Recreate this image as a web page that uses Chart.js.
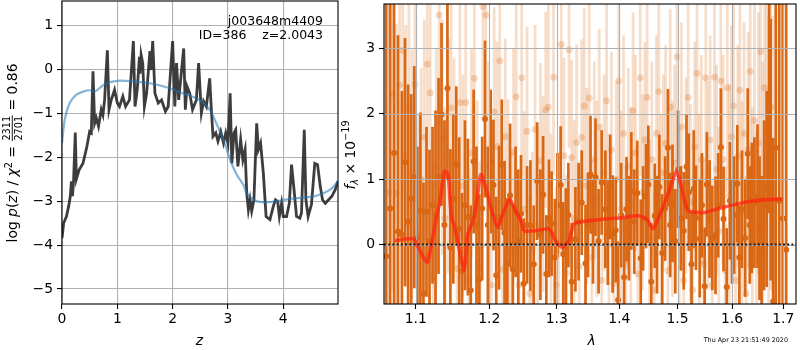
<!DOCTYPE html>
<html lang="en">
<head>
<meta charset="UTF-8">
<script src="https://cdn.jsdelivr.net/npm/chart.js"></script>
<style>
    body { margin: 0; background: #fff; }
    #wrap { position: relative; width: 800px; height: 350px; overflow: hidden; }
    #wrap canvas { position: absolute; top: 0; }
    #pz { left: 0; }
    #spec { left: 340px; }
</style>
</head>
<body>
<div id="wrap">
    <canvas id="pz" width="340" height="350"></canvas>
    <canvas id="spec" width="460" height="350"></canvas>
</div>
<script>
// ---- left panel: log p(z) ----
const zGrid = [0.00,0.03,0.08,0.12,0.15,0.17,0.19,0.21,0.24,0.26,0.31,0.38,0.45,0.50,0.53,0.56,0.59,0.62,0.66,0.71,
    0.74,0.77,0.82,0.85,0.89,0.95,1.00,1.04,1.10,1.15,1.22,1.29,1.32,1.36,1.40,1.41,1.43,1.46,1.49,1.53,1.59,
    1.61,1.64,1.68,1.74,1.80,1.87,1.92,2.00,2.04,2.07,2.11,2.20,2.23,2.26,2.31,2.36,2.43,2.47,2.52,2.56,
    2.61,2.67,2.70,2.73,2.78,2.82,2.87,2.92,2.96,3.00,3.04,3.07,3.11,3.14,3.18,3.23,3.27,3.31,3.34,3.37,
    3.40,3.43,3.47,3.52,3.55,3.59,3.64,3.69,3.76,3.82,3.86,3.90,3.93,3.97,4.00,4.06,4.11,4.15,4.19,4.24,
    4.30,4.33,4.38,4.41,4.45,4.51,4.57,4.62,4.67,4.71,4.76,4.82,4.88,4.94,4.99];
const logPz = [-3.84,-3.50,-3.35,-3.12,-2.89,-2.55,-2.89,-2.52,-1.44,-2.50,-2.29,-2.14,-1.76,-1.42,-1.45,-0.05,-1.23,-1.11,-1.30,-0.92,
    -1.04,-0.70,0.43,-0.92,-0.70,-0.47,-0.77,-0.85,-0.62,-0.85,-0.70,0.64,-0.85,-0.47,0.28,-0.10,0.33,0.13,-0.85,-0.55,0.41,
    -0.02,0.64,-0.55,-0.77,-0.70,-0.96,-0.85,0.64,-0.85,0.14,-0.70,0.47,-0.92,-0.39,-0.55,-0.92,-0.70,0.14,-1.00,-0.73,
    -0.85,-0.21,-0.92,-1.53,-1.45,-1.64,-1.42,-1.68,-1.45,-1.68,-0.55,-2.14,-1.45,-1.38,-2.21,-1.60,-2.06,-1.83,-2.82,-3.20,
    -2.97,-3.23,-2.97,-1.23,-1.83,-1.68,-2.36,-3.35,-3.42,-3.12,-2.97,-3.01,-3.35,-3.05,-3.35,-3.35,-3.05,-2.17,-2.67,-3.35,
    -3.39,-3.27,-1.38,-2.97,-3.35,-3.08,-2.14,-2.17,-2.67,-2.97,-3.05,-2.97,-2.89,-2.74,-2.55];
const zPrior = [0.00,0.05,0.14,0.26,0.38,0.50,0.59,0.68,0.80,1.04,1.29,1.59,1.89,2.19,2.49,2.67,2.79,2.92,3.04,3.16,
    3.28,3.34,3.46,3.64,3.88,4.12,4.36,4.60,4.85,4.99];
const logPrior = [-1.68,-1.15,-0.77,-0.58,-0.51,-0.48,-0.51,-0.43,-0.32,-0.26,-0.28,-0.32,-0.41,-0.55,-0.70,-0.92,-1.23,-1.61,-2.06,-2.40,
    -2.63,-2.82,-2.97,-3.03,-3.00,-2.95,-2.92,-2.88,-2.74,-2.55];
const pzTicksX = [0, 1, 2, 3, 4];
const pzTicksY = [-5, -4, -3, -2, -1, 0, 1];

// ---- right panel: spectrum ----
const modelWave = [1.073,1.097,1.103,1.115,1.127,1.132,1.138,1.143,1.147,1.154,1.161,1.165,1.170,1.177,1.181,1.188,1.195,1.205,1.212,1.219,
    1.229,1.236,1.246,1.251,1.273,1.288,1.298,1.308,1.319,1.326,1.334,1.377,1.404,1.432,1.446,1.457,1.469,1.483,1.498,1.507,
    1.519,1.549,1.579,1.610,1.642,1.675,1.698];
const modelFlux = [0.06,0.09,-0.04,-0.27,0.41,0.67,1.12,1.07,0.46,0.16,-0.24,-0.39,0.16,0.36,0.56,1.07,0.87,0.46,0.26,0.46,
    0.69,0.56,0.36,0.21,0.22,0.24,0.06,-0.04,0.06,0.31,0.34,0.39,0.41,0.44,0.39,0.24,0.46,0.77,1.12,0.87,
    0.52,0.49,0.56,0.62,0.67,0.69,0.70];

const darkWave = [1.062,1.067,1.072,1.077,1.082,1.086,1.090,1.094,1.098,1.102,1.106,1.110,1.114,1.118,1.122,1.126,1.130,1.134,1.138,1.142,
    1.146,1.150,1.154,1.158,1.162,1.166,1.170,1.174,1.178,1.182,1.186,1.190,1.194,1.198,1.202,1.206,1.210,1.214,1.218,1.222,
    1.226,1.230,1.234,1.238,1.242,1.246,1.250,1.255,1.260,1.265,1.270,1.275,1.279,1.284,1.288,1.292,1.297,1.301,1.306,1.310,
    1.314,1.318,1.323,1.329,1.334,1.339,1.345,1.349,1.353,1.357,1.361,1.366,1.371,1.377,1.381,1.385,1.389,1.394,1.398,1.403,
    1.408,1.412,1.416,1.420,1.425,1.430,1.436,1.440,1.445,1.449,1.454,1.460,1.464,1.468,1.473,1.478,1.483,1.487,1.491,1.496,
    1.501,1.506,1.511,1.516,1.520,1.525,1.529,1.533,1.540,1.544,1.549,1.553,1.558,1.563,1.569,1.574,1.579,1.584,1.590,1.596,
    1.600,1.604,1.610,1.614,1.619,1.625,1.630,1.634,1.638,1.643,1.649,1.653,1.657,1.662,1.667,1.672,1.675,1.680,1.685,1.692,
    1.699,1.706];
const darkFlux = [-0.18,0.55,1.40,0.20,0.15,1.26,0.35,0.70,1.03,0.10,0.52,-0.75,0.50,0.05,0.60,0.45,1.05,1.99,0.30,2.39,
    -0.04,0.70,1.22,0.24,-0.41,0.60,0.42,-0.70,1.27,0.30,-0.53,0.55,1.92,0.30,1.27,0.91,-0.47,0.41,1.22,0.18,
    -0.29,0.75,-0.38,0.50,0.05,0.47,-0.60,0.30,0.29,-0.30,0.97,0.15,0.76,-0.45,0.40,0.32,-0.20,0.60,0.91,-0.15,
    -0.04,0.45,-0.57,0.08,0.35,0.64,-0.29,0.30,1.07,0.20,1.03,0.05,0.95,0.54,0.18,0.88,0.16,0.22,-0.85,0.45,
    -0.50,0.54,0.25,0.82,0.35,0.79,-0.21,0.40,0.74,0.92,-0.57,0.44,0.15,0.88,-0.13,0.55,1.48,0.30,0.63,0.05,
    1.15,0.40,0.21,1.19,0.80,-0.30,0.85,0.41,0.09,0.60,-0.64,0.92,0.39,0.10,0.14,0.60,1.49,0.39,-0.65,0.67,
    0.20,0.45,0.93,-0.20,0.54,0.10,1.39,0.30,0.56,0.64,0.74,0.25,-0.15,0.60,0.85,2.28,1.45,-0.87,1.48,0.67,
    0.40,-0.08];
const darkErr = [4.6,4.2,3.8,3.0,2.2,1.9,2.1,1.6,1.7,1.4,1.5,1.7,1.3,1.4,1.2,1.6,1.5,1.4,1.6,1.4,
    1.5,1.3,1.2,1.4,1.2,1.3,1.2,1.3,1.1,1.2,1.3,1.1,1.2,1.2,1.1,1.0,1.2,1.1,1.0,1.1,
    1.0,1.1,1.0,1.0,1.1,0.9,1.0,0.9,1.0,0.9,0.9,1.0,0.9,0.9,0.9,0.8,0.9,0.8,0.9,0.8,
    0.9,0.8,0.9,0.8,0.9,0.8,0.9,0.8,0.9,0.8,0.9,0.8,0.8,0.9,0.8,0.8,0.9,0.8,0.9,0.8,
    0.9,0.8,0.8,0.9,0.8,0.8,0.9,0.8,0.8,0.9,0.9,0.8,0.9,0.8,0.9,0.8,0.9,0.8,0.9,0.8,
    0.9,0.8,0.9,0.8,0.9,0.8,0.9,0.8,0.9,0.8,0.9,0.8,0.9,0.8,0.9,0.8,0.9,0.8,0.9,0.9,
    0.8,0.9,0.9,0.8,0.9,0.9,1.0,0.9,1.0,1.0,1.1,1.1,1.2,1.3,1.5,1.8,2.0,2.5,3.0,3.5,
    4.0,4.5];

const lightWave = [1.065,1.070,1.075,1.079,1.083,1.087,1.091,1.095,1.099,1.103,1.107,1.111,1.115,1.119,1.123,1.127,1.131,1.135,1.139,1.143,
    1.147,1.151,1.155,1.159,1.163,1.167,1.171,1.175,1.179,1.183,1.187,1.191,1.195,1.199,1.203,1.207,1.211,1.215,1.219,1.223,
    1.227,1.231,1.235,1.239,1.243,1.247,1.251,1.255,1.259,1.263,1.267,1.271,1.275,1.279,1.283,1.287,1.291,1.295,1.299,1.303,
    1.307,1.311,1.315,1.319,1.323,1.327,1.331,1.335,1.339,1.343,1.347,1.351,1.355,1.359,1.363,1.367,1.371,1.375,1.379,1.383,
    1.387,1.391,1.395,1.399,1.403,1.407,1.411,1.415,1.419,1.423,1.427,1.431,1.435,1.439,1.443,1.447,1.451,1.455,1.459,1.463,
    1.467,1.471,1.475,1.479,1.483,1.487,1.491,1.495,1.499,1.503,1.507,1.511,1.515,1.519,1.523,1.527,1.531,1.535,1.539,1.543,
    1.547,1.551,1.555,1.559,1.563,1.567,1.571,1.575,1.579,1.583,1.587,1.591,1.595,1.599,1.603,1.607,1.611,1.615,1.619,1.623,
    1.627,1.631,1.635,1.639,1.643,1.647,1.651,1.655,1.659,1.663,1.667,1.671,1.675,1.679];
const lightFlux = [0.80,2.30,0.78,2.44,2.97,1.36,2.09,1.08,2.45,0.20,1.00,1.64,2.76,2.32,-0.50,1.20,3.51,1.64,0.40,1.36,
    2.09,1.25,-0.37,2.17,0.90,2.17,-0.55,1.40,2.54,0.60,-0.33,3.64,3.51,1.20,-0.62,2.03,1.50,2.81,-0.38,1.65,
    0.62,-0.09,1.41,2.26,-0.62,2.55,0.54,1.73,-0.75,-0.08,1.76,0.30,1.28,0.77,2.06,2.10,0.20,2.56,-0.62,-0.09,
    3.06,1.36,-0.44,2.98,1.33,0.40,1.56,-0.34,1.64,2.12,0.90,2.24,-0.20,1.30,0.70,1.80,-0.55,1.10,2.20,0.20,
    1.45,-0.60,1.00,2.50,0.55,1.70,-0.30,1.20,0.60,2.05,1.40,-0.45,2.55,0.80,1.60,2.25,0.10,1.30,-0.70,1.70,
    2.34,0.50,1.10,1.55,-0.40,2.10,0.70,1.25,2.87,0.30,1.80,-0.55,1.05,2.25,0.65,-0.70,1.50,2.62,0.40,1.30,
    -0.30,2.55,0.90,1.60,-0.62,2.56,1.15,0.20,2.50,1.30,-0.40,2.40,0.75,1.65,2.12,-0.55,1.35,2.36,0.50,1.70,
    -0.75,1.45,2.65,0.30,1.90,-0.20,1.55,2.95,0.70,2.40,1.80,1.00,2.10,0.50];
const lightErr = [3.5,3.0,2.6,2.4,2.2,2.0,2.0,1.9,1.8,1.8,1.7,1.8,1.7,1.8,1.7,1.8,1.7,1.8,1.7,1.8,
    1.7,1.6,1.7,1.6,1.7,1.6,1.7,1.6,1.7,1.6,1.6,1.7,1.6,1.6,1.7,1.6,1.6,1.6,1.6,1.5,
    1.6,1.5,1.6,1.5,1.6,1.5,1.5,1.6,1.5,1.5,1.6,1.5,1.5,1.5,1.5,1.6,1.5,1.5,1.5,1.5,
    1.6,1.5,1.5,1.5,1.5,1.5,1.5,1.5,1.5,1.5,1.5,1.5,1.5,1.5,1.5,1.5,1.5,1.5,1.5,1.5,
    1.5,1.5,1.5,1.5,1.5,1.5,1.5,1.5,1.5,1.5,1.5,1.5,1.5,1.5,1.5,1.5,1.5,1.5,1.5,1.5,
    1.5,1.5,1.5,1.5,1.5,1.5,1.5,1.5,1.6,1.5,1.6,1.5,1.5,1.6,1.5,1.6,1.6,1.6,1.6,1.6,
    1.6,1.6,1.6,1.6,1.6,1.6,1.6,1.6,1.6,1.6,1.6,1.6,1.7,1.7,1.7,1.7,1.7,1.7,1.7,1.7,
    1.8,1.8,1.8,1.8,1.9,1.9,2.0,2.0,2.1,2.2,2.3,2.5,2.8,3.0];
const specTicksX = [1.1, 1.2, 1.3, 1.4, 1.5, 1.6, 1.7];
const specTicksY = [0, 1, 2, 3];

const FONT = "'DejaVu Sans', sans-serif";
const tickFont = { family: FONT, size: 13.9 };
const GRID = '#b0b0b0';

function pairs(xs, ys) { return xs.map((x, i) => ({ x: x, y: ys[i] })); }
function minus(v) { return String(v).replace('-', '\u2212'); }

function fixAxis(size, isY) {
    return function (s) {
        if (isY) s.width = size; else s.height = size;
        s.paddingTop = 0; s.paddingBottom = 0; s.paddingLeft = 0; s.paddingRight = 0;
    };
}
function setTicks(list) {
    return function (s) { s.ticks = list.map(v => ({ value: v })); };
}

// draws a run of text pieces along a (possibly rotated) baseline, centred on cx,cy
function drawPieces(ctx, cx, cy, rot, pieces) {
    ctx.save();
    ctx.translate(cx, cy);
    ctx.rotate(rot);
    ctx.fillStyle = '#000';
    ctx.textBaseline = 'alphabetic';
    let total = 0;
    pieces.forEach(p => {
        ctx.font = p.font;
        if (p.frac) {
            p.w = Math.max(ctx.measureText(p.frac[0]).width, ctx.measureText(p.frac[1]).width) + 2;
        } else {
            p.w = ctx.measureText(p.t).width;
        }
        total += p.w;
    });
    let x = -total / 2;
    const base = 5;
    pieces.forEach(p => {
        ctx.font = p.font;
        if (p.frac) {
            ctx.textAlign = 'center';
            ctx.fillText(p.frac[0], x + p.w / 2, base - 7);
            ctx.fillText(p.frac[1], x + p.w / 2, base + 4.5);
            ctx.fillRect(x + 0.5, base - 5.2, p.w - 1, 0.9);
        } else {
            ctx.textAlign = 'left';
            ctx.fillText(p.t, x, base + (p.dy || 0));
        }
        x += p.w;
    });
    ctx.restore();
}

const R = '13.9px ' + FONT;
const I = 'oblique 13.9px ' + FONT;
const S = '9.7px ' + FONT;
const SI = 'oblique 9.7px ' + FONT;

const framePlugin = {
    id: 'frame',
    afterDraw(chart) {
        const { ctx, chartArea: a } = chart;
        ctx.save();
        ctx.strokeStyle = '#000';
        ctx.lineWidth = 1.1;
        ctx.strokeRect(a.left, a.top, a.right - a.left, a.bottom - a.top);
        ctx.restore();
    }
};

const pzText = {
    id: 'pzText',
    afterDraw(chart) {
        const ctx = chart.ctx;
        drawPieces(ctx, 12, 153, -Math.PI / 2, [
            { t: 'log ', font: R }, { t: 'p', font: I }, { t: '(', font: R }, { t: 'z', font: I },
            { t: ') / ', font: R }, { t: '\u03c7', font: I }, { t: '2', font: S, dy: -5.5 },
            { t: ' = ', font: R }, { frac: ['2311', '2701'], font: S }, { t: ' = 0.86', font: R }
        ]);
        ctx.save();
        ctx.fillStyle = '#000';
        ctx.font = 'oblique 13.9px ' + FONT;
        ctx.textAlign = 'center';
        ctx.fillText('z', 199.5, 345);
        ctx.font = '12.5px ' + FONT;
        ctx.textAlign = 'right';
        ctx.fillText('j003648m4409', 323, 25);
        ctx.fillText('ID=386    z=2.0043', 323, 39);
        ctx.restore();
    }
};

new Chart(document.getElementById('pz'), {
    type: 'line',
    data: {
        datasets: [
            { data: pairs(zPrior, logPrior), borderColor: 'rgba(31,119,180,0.55)', borderWidth: 2.2, pointRadius: 0, tension: 0.3 },
            { data: pairs(zGrid, logPz), borderColor: 'rgba(45,45,45,0.92)', borderWidth: 2.8, pointRadius: 0, tension: 0 }
        ]
    },
    options: {
        responsive: false, animation: false, devicePixelRatio: 1,
        layout: { padding: { top: 1, right: 2, left: 0, bottom: 0 } },
        plugins: { legend: { display: false }, tooltip: { enabled: false } },
        scales: {
            x: {
                type: 'linear', min: 0, max: 4.99,
                afterFit: fixAxis(46, false), afterBuildTicks: setTicks(pzTicksX),
                grid: { color: GRID, lineWidth: 1.1, tickColor: '#000', tickLength: 5, tickWidth: 1.1 },
                border: { display: false },
                ticks: { font: tickFont, color: '#000', padding: 2, maxRotation: 0, callback: v => minus(v) }
            },
            y: {
                type: 'linear', min: -5.34, max: 1.55,
                afterFit: fixAxis(62, true), afterBuildTicks: setTicks(pzTicksY),
                grid: { color: GRID, lineWidth: 1.1, tickColor: '#000', tickLength: 5, tickWidth: 1.1 },
                border: { display: false },
                ticks: { font: tickFont, color: '#000', padding: 4, callback: v => minus(v) }
            }
        }
    },
    plugins: [framePlugin, pzText]
});

// error bars for the spectrum, drawn just before each dataset's markers
const errorBars = {
    id: 'errorBars',
    beforeDatasetDraw(chart, args) {
        const ds = chart.data.datasets[args.index];
        const { ctx, chartArea: a, scales } = chart;
        ctx.save();
        ctx.beginPath();
        ctx.rect(a.left, a.top, a.right - a.left, a.bottom - a.top);
        ctx.clip();
        if (ds.gridBefore) {
            ctx.strokeStyle = GRID;
            ctx.lineWidth = 1.1;
            specTicksX.forEach(v => {
                const px = Math.round(scales.x.getPixelForValue(v)) + 0.5;
                ctx.beginPath(); ctx.moveTo(px, a.top); ctx.lineTo(px, a.bottom); ctx.stroke();
            });
            specTicksY.forEach(v => {
                const py = Math.round(scales.y.getPixelForValue(v)) + 0.5;
                ctx.beginPath(); ctx.moveTo(a.left, py); ctx.lineTo(a.right, py); ctx.stroke();
            });
        }
        if (ds.errors) {
            ctx.strokeStyle = ds.barColor;
            ctx.lineWidth = ds.barWidth;
            ds.data.forEach((p, i) => {
                const px = scales.x.getPixelForValue(p.x);
                ctx.beginPath();
                ctx.moveTo(px, scales.y.getPixelForValue(p.y - ds.errors[i]));
                ctx.lineTo(px, scales.y.getPixelForValue(p.y + ds.errors[i]));
                ctx.stroke();
            });
        }
        ctx.restore();
    },
    afterDatasetsDraw(chart) {
        const { ctx, chartArea: a, scales } = chart;
        const py = scales.y.getPixelForValue(0);
        ctx.save();
        ctx.strokeStyle = '#1a1a1a';
        ctx.lineWidth = 2;
        ctx.setLineDash([2, 2.2]);
        ctx.beginPath(); ctx.moveTo(a.left, py); ctx.lineTo(a.right, py); ctx.stroke();
        ctx.restore();
    }
};

const specText = {
    id: 'specText',
    afterDraw(chart) {
        const ctx = chart.ctx;
        drawPieces(ctx, 10, 155, -Math.PI / 2, [
            { t: 'f', font: I }, { t: '\u03bb', font: SI, dy: 3 }, { t: ' \u00d7 10', font: R },
            { t: '\u221219', font: S, dy: -6 }
        ]);
        ctx.save();
        ctx.fillStyle = '#000';
        ctx.font = 'oblique 13.9px ' + FONT;
        ctx.textAlign = 'center';
        ctx.fillText('\u03bb', 251.7, 345);
        ctx.font = '6.4px ' + FONT;
        ctx.textAlign = 'right';
        ctx.fillText('Thu Apr 23 21:51:49 2020', 448, 342);
        ctx.restore();
    }
};

const ORANGE = 'rgb(217,103,20)';
new Chart(document.getElementById('spec'), {
    type: 'scatter',
    data: {
        datasets: [
            { type: 'line', data: pairs(modelWave, modelFlux), borderColor: 'rgba(255,35,15,0.72)', borderWidth: 3.6,
              pointRadius: 0, tension: 0.2, clip: 0, gridBefore: true },
            { data: pairs(darkWave, darkFlux), errors: darkErr, barColor: ORANGE, barWidth: 2.7,
              pointRadius: 3, pointBackgroundColor: ORANGE, pointBorderWidth: 0, clip: 0 },
            { data: pairs(lightWave, lightFlux), errors: lightErr, barColor: 'rgba(217,103,20,0.22)', barWidth: 2.8,
              pointRadius: 3.4, pointBackgroundColor: 'rgba(217,103,20,0.26)', pointBorderWidth: 0, clip: 0 }
        ]
    },
    options: {
        responsive: false, animation: false, devicePixelRatio: 1,
        layout: { padding: { top: 1, right: 1, left: 0, bottom: 0 } },
        plugins: { legend: { display: false }, tooltip: { enabled: false } },
        scales: {
            x: {
                type: 'logarithmic', min: 1.0593, max: 1.726,
                afterFit: fixAxis(46, false), afterBuildTicks: setTicks(specTicksX),
                grid: { drawOnChartArea: false, tickColor: '#000', tickLength: 5, tickWidth: 1.1 },
                border: { display: false },
                ticks: { font: tickFont, color: '#000', padding: 2, maxRotation: 0, callback: v => v.toFixed(1) }
            },
            y: {
                type: 'linear', min: -0.91, max: 3.68,
                afterFit: fixAxis(44, true), afterBuildTicks: setTicks(specTicksY),
                grid: { drawOnChartArea: false, tickColor: '#000', tickLength: 5, tickWidth: 1.1 },
                border: { display: false },
                ticks: { font: tickFont, color: '#000', padding: 4, callback: v => minus(v) }
            }
        }
    },
    plugins: [errorBars, framePlugin, specText]
});
</script>
</body>
</html>
